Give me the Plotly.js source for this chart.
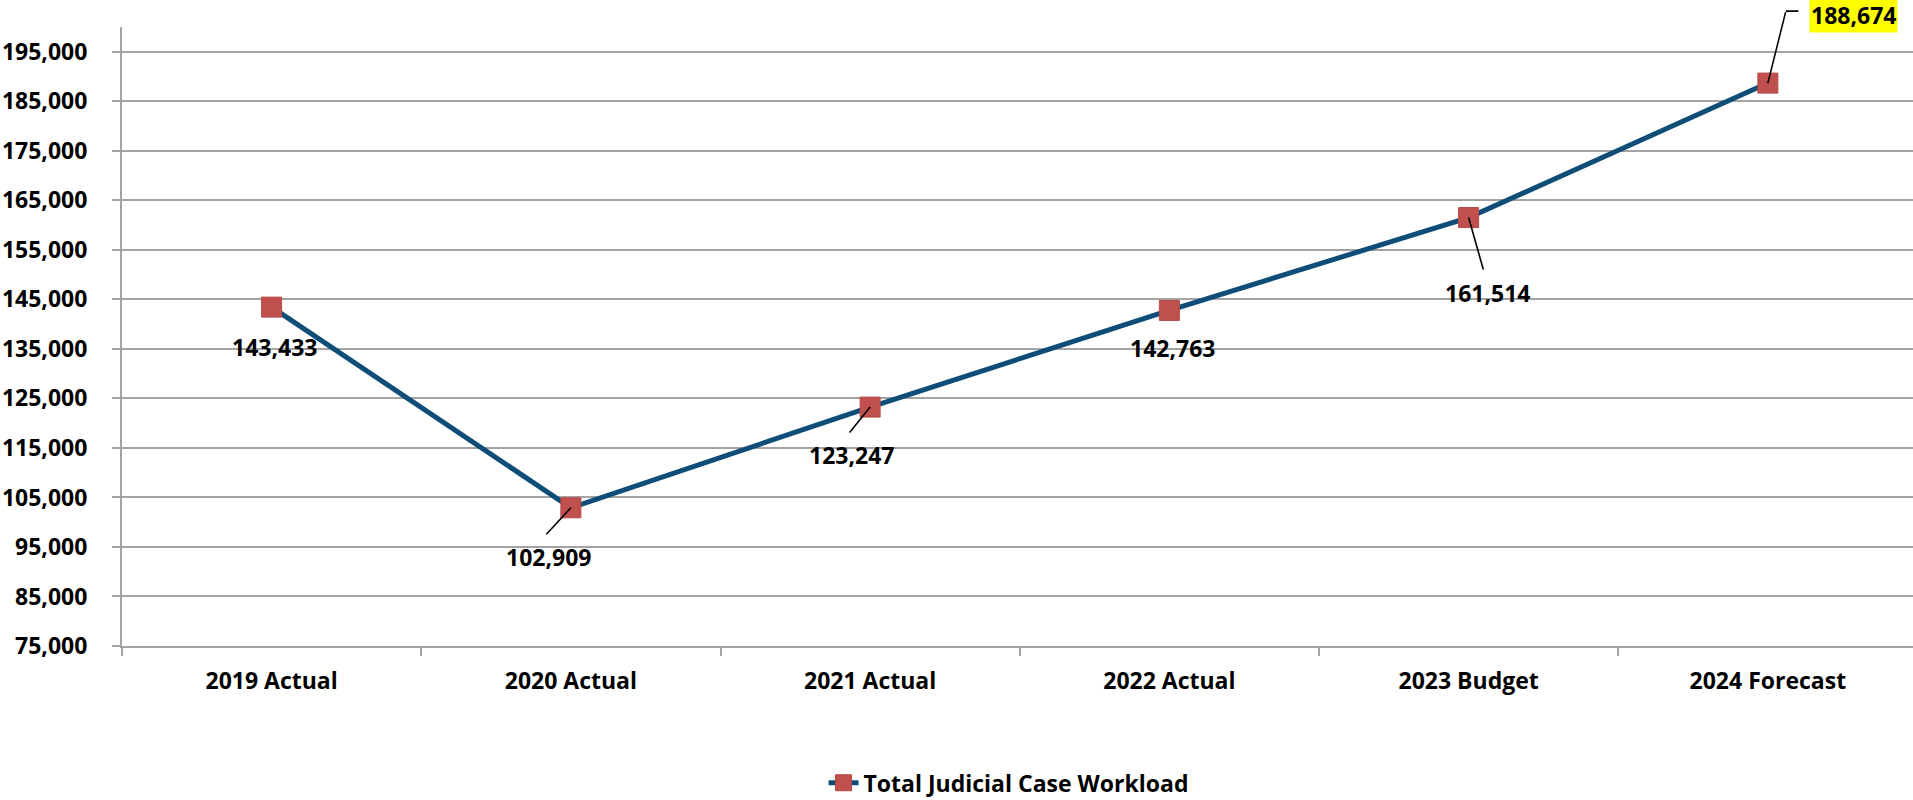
<!DOCTYPE html>
<html>
<head>
<meta charset="utf-8">
<script src="https://cdn.plot.ly/plotly-3.0.1.min.js"></script>
<style>
  html, body { margin: 0; padding: 0; background: #ffffff; }
  #chart { width: 1913px; height: 800px; }
</style>
</head>
<body>
<div id="chart"></div>
<script>
// ---- data ----
const categories = ['2019 Actual', '2020 Actual', '2021 Actual', '2022 Actual', '2023 Budget', '2024 Forecast'];
const workload = [143433, 102909, 123247, 142763, 161514, 188674];
const seriesName = 'Total Judicial Case Workload';

// ---- label placement (screen pixel offsets from each marker: right, down) ----
const labelOffsets = [[3, 40], [-22, 49], [-19, 48], [3, 38], [19, 75], [86, -68]];
// leader line segments: [pointIndex, fromDx, fromDy, toDx, toDy]
const leaders = [
  [1, 0, 0, -25, 27],
  [2, 0, 0, -21, 26],
  [4, 0, 0, 15, 53],
  [5, 0, 0, 18, -72],
  [5, 18, -72, 31, -72]
];
const highlightIndex = 5;

const FONT = 'Open Sans, Arial, sans-serif';
const gridColor = '#a3a3a3';

const trace = {
  x: categories,
  y: workload,
  type: 'scatter',
  mode: 'lines+markers',
  name: seriesName,
  line: { color: '#0d4d78', width: 5 },
  marker: { symbol: 'square', size: 20, color: '#c0504d', line: { color: '#b64a47', width: 1 } },
  cliponaxis: false
};

const annotations = [];
workload.forEach((v, i) => {
  const [dx, dy] = labelOffsets[i];
  annotations.push({
    x: i, y: v, xref: 'x', yref: 'y',
    text: v.toLocaleString('en-US'),
    showarrow: false,
    xshift: dx, yshift: -dy,
    xanchor: 'center', yanchor: 'middle',
    font: { family: FONT, size: 23, color: '#000000', weight: 700 },
    bgcolor: i === highlightIndex ? '#ffff00' : 'rgba(0,0,0,0)',
    borderpad: i === highlightIndex ? 1 : 0
  });
});
leaders.forEach(([i, fx, fy, tx, ty]) => {
  annotations.push({
    x: i, y: workload[i], xref: 'x', yref: 'y',
    text: ' ',
    font: { size: 1, color: 'rgba(0,0,0,0)' },
    showarrow: true, arrowhead: 0, arrowwidth: 1.6, arrowcolor: '#000000',
    standoff: 0, startstandoff: 0,
    xshift: fx, yshift: -fy,
    ax: tx - fx, ay: ty - fy,
    borderpad: 0
  });
});

const layout = {
  width: 1913, height: 800,
  margin: { l: 122, r: 0, t: 27, b: 154, pad: 0, autoexpand: false },
  paper_bgcolor: '#ffffff', plot_bgcolor: '#ffffff',
  font: { family: FONT, size: 23, color: '#000000', weight: 700 },
  showlegend: true,
  legend: {
    orientation: 'h', x: 0.495, xanchor: 'center', y: -0.221, yanchor: 'middle',
    font: { family: FONT, size: 23, color: '#000000', weight: 700 },
    itemwidth: 30
  },
  xaxis: {
    type: 'category',
    range: [-0.5, 5.485],
    showgrid: false,
    showline: true, linecolor: gridColor, linewidth: 2,
    ticks: 'outside', ticklen: 8, tickwidth: 2, tickcolor: gridColor,
    tickson: 'boundaries',
    tickfont: { family: FONT, size: 23, color: '#000000', weight: 700 },
    ticklabelstandoff: 13,
    zeroline: false, fixedrange: true
  },
  yaxis: {
    range: [75000, 200000],
    tick0: 75000, dtick: 10000,
    tickformat: ',d',
    showgrid: true, gridcolor: gridColor, gridwidth: 2,
    showline: true, linecolor: gridColor, linewidth: 2,
    ticks: 'outside', ticklen: 8, tickwidth: 2, tickcolor: gridColor,
    tickfont: { family: FONT, size: 23, color: '#000000', weight: 700 },
    ticklabelstandoff: 20,
    zeroline: false, fixedrange: true
  },
  annotations: annotations,
  hovermode: false
};

Plotly.newPlot('chart', [trace], layout, { displayModeBar: false, staticPlot: true });
</script>
</body>
</html>
